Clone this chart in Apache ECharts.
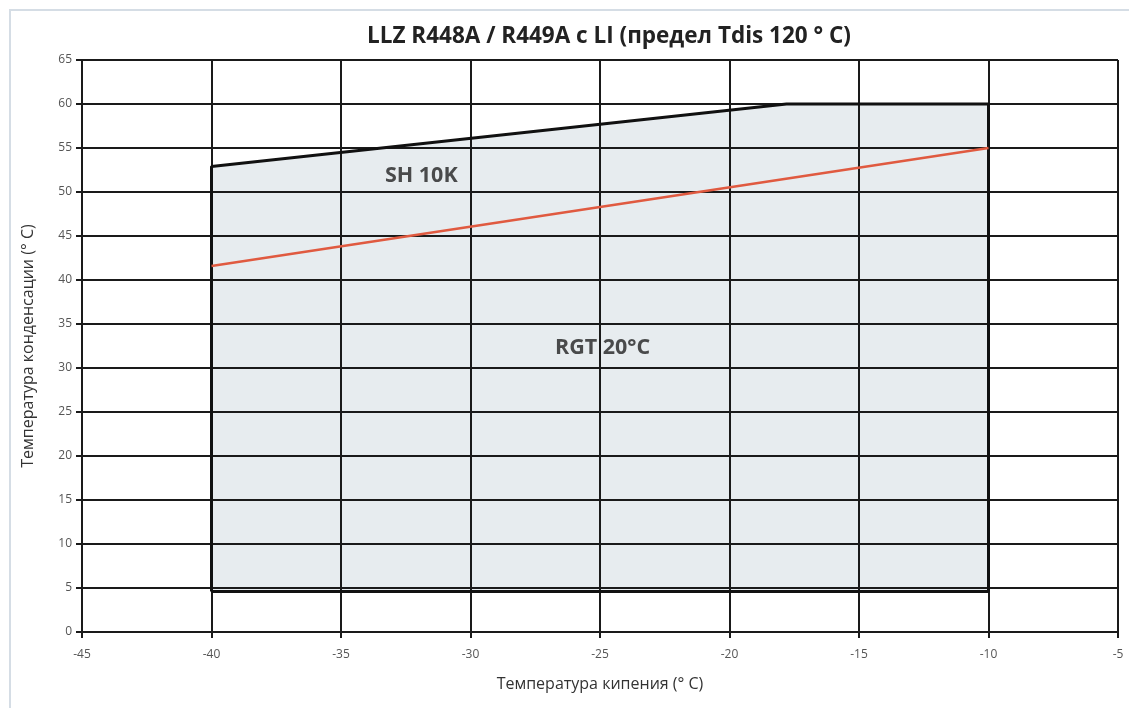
<!DOCTYPE html>
<html><head><meta charset="utf-8">
<script src="https://cdn.jsdelivr.net/npm/echarts@6/dist/echarts.min.js"></script>
<style>html,body{margin:0;padding:0;background:#fff}#c{width:1129px;height:708px}</style>
</head><body><div id="c"></div>
<script>
const titleText = 'LLZ R448A / R449A с LI (предел Tdis 120 ° C)';
const xName = 'Температура кипения (° C)';
const yName = 'Температура конденсации (° C)';
const envelopeX = [-40, -40, -17.8, -10, -10];
const envelopeY = [4.6, 52.9, 60, 60, 4.6];
const sh10kX = [-40, -10];
const sh10kY = [41.6, 55];
const labelTexts = ['SH 10K', 'RGT 20°C'];
const labelX = [-31.9, -24.9];
const labelY = [51.8, 32.3];

const envPts = envelopeX.map((x, i) => [x, envelopeY[i]]);
const chart = echarts.init(document.getElementById('c'));
chart.setOption({
  animation: false,
  title: { text: titleText, left: 604, textAlign: 'center', top: 20,
    textStyle: { fontFamily: 'Open Sans', fontWeight: 'bold', fontSize: 22.5, color: '#222' } },
  grid: { left: 82, right: 11, top: 60, bottom: 76 },
  graphic: [{ type: 'rect', shape: { x: 10, y: 10, width: 1125, height: 705 },
    style: { fill: 'none', stroke: '#d5dde5', lineWidth: 2 }, silent: true }],
  xAxis: { type: 'value', min: -45, max: -5, interval: 5,
    name: xName, nameLocation: 'middle', nameGap: 44,
    nameTextStyle: { fontFamily: 'Open Sans', fontSize: 16, color: '#333' },
    axisLine: { show: true, lineStyle: { color: '#1a1a1a', width: 2 } },
    axisTick: { show: true, length: 6, lineStyle: { color: '#1a1a1a', width: 2 } },
    axisLabel: { fontFamily: 'Open Sans', fontSize: 12, color: '#555', margin: 17 },
    splitLine: { show: true, lineStyle: { color: '#1a1a1a', width: 2 } } },
  yAxis: { type: 'value', min: 0, max: 65, interval: 5,
    name: yName, nameLocation: 'middle', nameGap: 46,
    nameTextStyle: { fontFamily: 'Open Sans', fontSize: 16, color: '#333' },
    axisLine: { show: false },
    axisTick: { show: true, length: 6, lineStyle: { color: '#1a1a1a', width: 2 } },
    axisLabel: { fontFamily: 'Open Sans', fontSize: 12, color: '#555', margin: 10 },
    splitLine: { show: true, lineStyle: { color: '#1a1a1a', width: 2 } } },
  series: [
    { type: 'custom', z: -1, silent: true,
      data: [0],
      renderItem: function (params, api) {
        const pts = envPts.map(p => api.coord(p));
        return { type: 'polygon', shape: { points: pts },
          style: { fill: '#e7ecef', stroke: 'none' } };
      } },
    { type: 'line', z: 5, symbol: 'none', silent: true,
      data: envPts.concat([envPts[0]]),
      lineStyle: { color: '#111', width: 3 } },
    { type: 'line', z: 6, symbol: 'none', silent: true,
      data: sh10kX.map((x, i) => [x, sh10kY[i]]),
      lineStyle: { color: '#e05a40', width: 2.5 } },
    { type: 'scatter', z: 7, symbolSize: 0, silent: true,
      data: labelX.map((x, i) => ({ value: [x, labelY[i]], name: labelTexts[i] })),
      label: { show: true, position: 'inside', formatter: p => p.name,
        fontFamily: 'Open Sans', fontWeight: 'bold', fontSize: 21.5, color: '#222' } }
  ]
});
</script></body></html>
